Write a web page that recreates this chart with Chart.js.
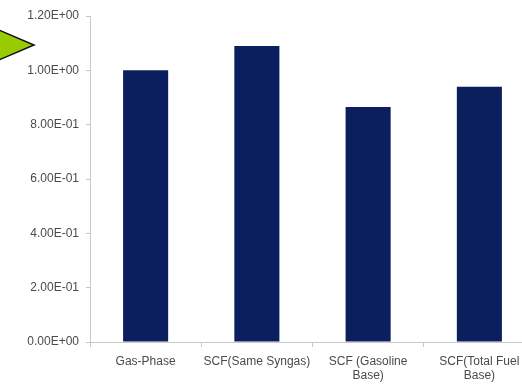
<!DOCTYPE html>
<html>
<head>
<meta charset="utf-8">
<script src="https://cdn.jsdelivr.net/npm/chart.js"></script>
<style>
  html, body { margin: 0; padding: 0; background: #fff; overflow: hidden; }
</style>
</head>
<body>
<canvas id="myChart" width="540" height="385"></canvas>
<script>
const categories = [
  ['Gas-Phase'],
  ['SCF(Same Syngas)'],
  ['SCF (Gasoline', 'Base)'],
  ['SCF(Total Fuel', 'Base)']
];
const values = [1.00, 1.09, 0.865, 0.94];
const yTickLabels = ['0.00E+00', '2.00E-01', '4.00E-01', '6.00E-01', '8.00E-01', '1.00E+00', '1.20E+00'];

const BAR_COLOR = '#0b1f5e';
const TEXT_COLOR = '#4a4a4a';
const AXIS_COLOR = '#c8c8c8';

// green pointer arrow on the left edge (slide decoration)
const arrowPlugin = {
  id: 'arrow',
  afterDraw(chart) {
    const c = chart.ctx;
    c.save();
    c.beginPath();
    c.moveTo(-6, 28);
    c.lineTo(34, 45);
    c.lineTo(-6, 62);
    c.closePath();
    c.fillStyle = '#99cc00';
    c.fill();
    c.lineWidth = 1.5;
    c.strokeStyle = '#111';
    c.stroke();
    c.restore();
  }
};

let myChart;
const setup = () => {
  const ctxt = document.getElementById('myChart').getContext('2d');
  myChart = new Chart(ctxt, {
    type: 'bar',
    data: {
      labels: categories,
      datasets: [{
        data: values,
        backgroundColor: BAR_COLOR,
        borderWidth: 0,
        categoryPercentage: 1,
        barPercentage: 0.405
      }]
    },
    options: {
      responsive: false,
      animation: false,
      layout: { padding: { top: 16, right: 5, left: 0, bottom: 0 } },
      plugins: { legend: { display: false }, tooltip: { enabled: false } },
      scales: {
        x: {
          grid: {
            display: true,
            drawOnChartArea: false,
            offset: true,
            color: AXIS_COLOR,
            tickLength: 5
          },
          border: { color: AXIS_COLOR, width: 1 },
          ticks: {
            color: TEXT_COLOR,
            font: { family: 'Liberation Sans, Arial, sans-serif', size: 12, lineHeight: 1.2 },
            maxRotation: 0,
            autoSkip: false,
            padding: 7
          },
          afterFit: (axis) => { axis.height = 43; }
        },
        y: {
          min: 0,
          max: 1.2,
          grid: {
            display: true,
            drawOnChartArea: false,
            color: AXIS_COLOR,
            tickLength: 4
          },
          border: { color: AXIS_COLOR, width: 1 },
          ticks: {
            stepSize: 0.2,
            color: TEXT_COLOR,
            font: { family: 'Liberation Sans, Arial, sans-serif', size: 12 },
            padding: 7,
            callback: (v, i) => yTickLabels[i]
          },
          afterFit: (axis) => { axis.width = 90; }
        }
      }
    },
    plugins: [arrowPlugin]
  });
};

window.addEventListener('DOMContentLoaded', setup);
</script>
</body>
</html>
